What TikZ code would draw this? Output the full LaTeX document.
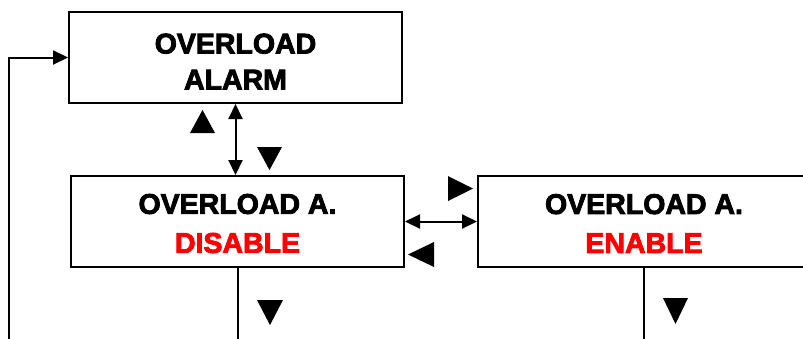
\documentclass[tikz,border=0pt]{standalone}
\usepackage{fontspec}
\setmainfont{Liberation Sans}[BoldFeatures={FakeBold=3}]
\usetikzlibrary{arrows.meta}
\definecolor{labred}{RGB}{255,0,0}
\begin{document}
\begin{tikzpicture}[x=1pt,y=-1pt,
  box/.style={draw,line width=2pt,rectangle,inner sep=0pt},
  lbl/.style={align=center,inner sep=0pt,
    font=\fontsize{28.5}{36}\selectfont\bfseries},
  conn/.style={line width=2pt},
  tipa/.style={-{Triangle[length=15pt,width=14pt]}},
  tipb/.style={{Triangle[length=15pt,width=14pt]}-{Triangle[length=15pt,width=14pt]}},
  tri/.style={fill=black}]
\useasboundingbox (0,0) rectangle (803,338);
\clip (0,0) rectangle (803,338);
\node[box,minimum width=333pt,minimum height=91pt] (alarm) at (235.5,57.5) {};
\node[box,minimum width=333pt,minimum height=91pt] (dis) at (237.5,221.5) {};
\node[box,minimum width=332pt,minimum height=91pt] (en) at (644,221.5) {};
\node[lbl] (alarmt) at ([yshift=-4pt]alarm.center) {OVERLOAD\\ALARM};
\node[lbl,font=\fontsize{28.5}{39}\selectfont\bfseries] (dist) at ([yshift=-2pt]dis.center) {OVERLOAD A.\\\textcolor{labred}{DISABLE}};
\node[lbl,font=\fontsize{28.5}{39}\selectfont\bfseries] (ent) at ([yshift=-2pt]en.center) {OVERLOAD A.\\\textcolor{labred}{ENABLE}};
\coordinate (fb) at (9,340);
\coordinate (disout) at (dis.south |- 0,340);
\coordinate (enout) at (en.south |- 0,340);
\draw[conn,tipb] (alarm.south) -- (alarm.south |- dis.north);
\draw[conn,tipb] (dis.east) -- (en.west);
\draw[conn,tipa] (fb) |- (alarm.west);
\draw[conn] (dis.south) -- (disout);
\draw[conn] (en.south) -- (enout);
% triangles
\fill[tri] (190,133) -- (215,133) -- (202.5,110) -- cycle;
\fill[tri] (257,147) -- (282,147) -- (269.5,170) -- cycle;
\fill[tri] (448,176) -- (448,201) -- (473,188.5) -- cycle;
\fill[tri] (434,242) -- (434,267) -- (408,254.5) -- cycle;
\fill[tri] (257,300) -- (283,300) -- (270,325) -- cycle;
\fill[tri] (663,298) -- (688,298) -- (675.5,324) -- cycle;
\end{tikzpicture}
\end{document}
